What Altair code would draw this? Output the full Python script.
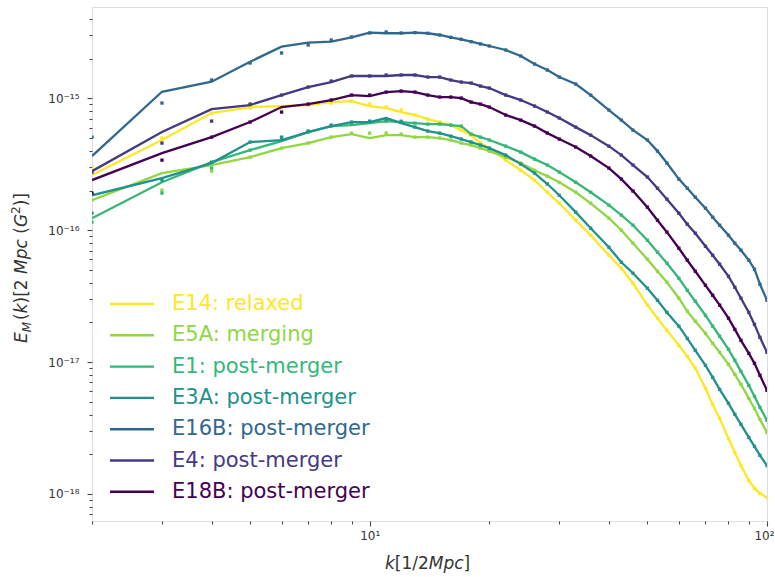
import altair as alt
import pandas as pd

# wavenumber grid, k [1/2 Mpc]
K = [2, 3, 4, 5, 6, 7, 8, 9, 10, 11, 12, 13, 14, 15, 16, 17, 18, 19, 20,
     22, 24, 26, 28, 30, 33, 36, 40, 43, 46, 50, 53, 56, 60, 63, 66,
     70, 73, 76, 80, 83, 86, 90, 93, 96, 100]

# magnetic energy spectra E_M(k), in units of 1e-16 G^2
UNIT = 1e-16

E14 = [2.62, 4.83, 7.73, 8.59, 8.74, 8.90, 9.37, 9.54, 8.74, 8.44, 7.87, 7.47,
       6.96, 6.61, 6.27, 5.74, 5.26, 4.58, 4.19, 3.40, 2.85, 2.40, 1.94, 1.60,
       1.191, 0.916, 0.646, 0.514, 0.396, 0.270, 0.215, 0.174, 0.134, 0.1105,
       0.0896, 0.0632, 0.0477, 0.0374, 0.0263, 0.0206, 0.0164, 0.01264, 0.0110,
       0.0101, 0.00939]
E5A = [1.69, 2.71, 3.12, 3.58, 4.19, 4.58, 5.08, 5.36, 5.00, 5.26, 5.26, 5.08,
       5.08, 5.00, 4.83, 4.58, 4.42, 4.19, 3.98, 3.58, 3.23, 2.85, 2.57, 2.31,
       1.94, 1.60, 1.233, 1.00, 0.797, 0.602, 0.488, 0.403, 0.305, 0.243, 0.204,
       0.165, 0.1387, 0.1185, 0.0960, 0.0807, 0.0677, 0.0530, 0.0445, 0.0367,
       0.0292]
E1 = [1.233, 2.31, 3.28, 4.05, 4.74, 5.55, 6.16, 6.27, 6.49, 6.72, 6.61, 6.49,
      6.38, 6.38, 6.27, 6.16, 5.36, 5.08, 4.83, 4.34, 3.91, 3.46, 3.12, 2.76,
      2.31, 1.94, 1.548, 1.300, 1.091, 0.839, 0.681, 0.562, 0.432, 0.350, 0.289,
      0.226, 0.187, 0.157, 0.1249, 0.1030, 0.0850, 0.0666, 0.0549, 0.0453,
      0.0361]
E3A = [1.84, 2.48, 3.23, 4.66, 4.83, 5.55, 6.16, 6.61, 6.61, 7.09, 6.49, 6.05,
       5.65, 5.45, 5.17, 4.91, 4.66, 4.42, 4.19, 3.71, 3.17, 2.71, 2.24, 1.84,
       1.370, 1.035, 0.743, 0.571, 0.472, 0.363, 0.294, 0.238, 0.187, 0.151,
       0.1227, 0.0944, 0.0765, 0.0620, 0.0486, 0.0401, 0.0337, 0.0268, 0.0229,
       0.0196, 0.0164]
E16B = [3.65, 11.22, 13.37, 18.96, 24.65, 26.44, 26.91, 29.05, 31.49, 31.16,
        31.16, 31.49, 31.16, 30.24, 29.05, 28.05, 26.91, 25.85, 24.95, 23.27,
        20.95, 18.21, 16.40, 14.51, 12.84, 10.59, 8.15, 6.84, 5.74, 4.83, 3.98,
        3.23, 2.44, 2.08, 1.78, 1.47, 1.255, 1.091, 0.916, 0.797, 0.705, 0.592,
        0.506, 0.389, 0.294]
E4 = [2.805, 5.55, 8.29, 8.90, 10.59, 12.18, 13.30, 14.77, 14.77, 14.77, 15.03,
      15.03, 14.51, 14.51, 13.77, 13.30, 13.07, 12.40, 11.97, 10.59, 9.71, 8.74,
      7.87, 7.09, 6.05, 5.26, 4.34, 3.71, 3.12, 2.53, 2.08, 1.72, 1.346, 1.111,
      0.949, 0.756, 0.646, 0.552, 0.447, 0.369, 0.305, 0.238, 0.193, 0.154,
      0.1185]
E18B = [2.40, 3.84, 5.08, 6.61, 8.59, 9.05, 9.71, 10.59, 10.41, 11.16, 11.36,
        11.16, 10.59, 10.23, 10.23, 10.05, 9.37, 9.05, 8.59, 7.47, 6.84, 6.16,
        5.45, 4.91, 4.27, 3.65, 2.96, 2.44, 1.98, 1.495, 1.191, 0.966, 0.730,
        0.592, 0.488, 0.382, 0.321, 0.270, 0.215, 0.177, 0.146, 0.1164, 0.0977,
        0.0793, 0.0610]

# unsmoothed low-k samples (k = 2..12); above k = 12 the samples sit on the curves
N_LOW = 11
E14_PTS = [3.01, 5.00, 7.73, 8.44, 8.44, 8.90, 9.21, 9.54, 9.05, 8.59, 8.15]
E5A_PTS = [1.69, 2.01, 2.805, 3.58, 4.19, 4.58, 5.08, 5.45, 5.45, 5.45, 5.36]
E1_PTS = [1.150, 1.91, 2.96, 4.05, 5.00, 5.55, 6.16, 6.38, 6.61, 6.72, 6.72]
E3A_PTS = [1.346, 2.40, 3.28, 4.66, 5.08, 5.65, 6.27, 6.61, 6.72, 6.96, 6.61]
E16B_PTS = [5.08, 9.21, 13.77, 18.54, 22.08, 25.39, 27.71, 29.20, 31.32, 31.87, 31.32]
E4_PTS = [2.757, 4.58, 6.72, 9.05, 10.59, 12.18, 13.53, 14.77, 14.77, 15.03, 15.03]
E18B_PTS = [1.91, 3.40, 5.08, 6.61, 7.87, 9.05, 9.71, 10.59, 10.59, 11.16, 11.36]

LABELS = ["E14: relaxed", "E5A: merging", "E1: post-merger", "E3A: post-merger",
          "E16B: post-merger", "E4: post-merger", "E18B: post-merger"]
COLORS = ["#fde725", "#90d743", "#35b779", "#21918c", "#31688e", "#443983", "#440154"]
CURVES = [E14, E5A, E1, E3A, E16B, E4, E18B]
SAMPLES = [E14_PTS, E5A_PTS, E1_PTS, E3A_PTS, E16B_PTS, E4_PTS, E18B_PTS]

FONT = "DejaVu Sans"
INK = "#333333"

# log axes with matplotlib-style major/minor ticks
x_ticks = [2, 3, 4, 5, 6, 7, 8, 9, 10, 20, 30, 40, 50, 60, 70, 80, 90, 100]
y_ticks = [m * 10.0 ** e for e in range(-19, -14) for m in range(1, 10)
           if 6.2e-19 <= m * 10.0 ** e <= 4.93e-15]
is_decade = "abs(log(datum.value)/LN10 - round(log(datum.value)/LN10)) < 0.001"
dec = "round(log(datum.value)/LN10)"

x_axis = alt.Axis(
    values=x_ticks, title=None, grid=False, domain=False,
    labelExpr="datum.value == 10 ? '10¹' : datum.value == 100 ? '10²' : ''",
    tickSize={"condition": {"test": "datum.value == 10 || datum.value == 100", "value": 5}, "value": 3},
    labelOffset={"condition": {"test": "datum.value == 100", "value": -3}, "value": 0},
    tickColor="#444444", tickWidth=1.1, labelFont=FONT, labelFontSize=12,
    labelColor=INK, labelPadding=4, labelFlush=False, labelOverlap=False, labelBound=False,
)
y_axis = alt.Axis(
    values=y_ticks, title=None, grid=False, domain=False,
    labelExpr=(f"{is_decade} ? ({dec} == -15 ? '10⁻¹⁵' : {dec} == -16 ? '10⁻¹⁶' : "
               f"{dec} == -17 ? '10⁻¹⁷' : '10⁻¹⁸') : ''"),
    tickSize={"condition": {"test": is_decade, "value": 5}, "value": 3},
    tickColor="#444444", tickWidth=1.1, labelFont=FONT, labelFontSize=12,
    labelColor=INK, labelPadding=8, labelFlush=False, labelOverlap=False, labelBound=False,
)

X = alt.X("k:Q", scale=alt.Scale(type="log", domain=[2, 100], nice=False), axis=x_axis)
Y = alt.Y("E:Q", scale=alt.Scale(type="log", domain=[6.23e-19, 4.93e-15], nice=False), axis=y_axis)

layers = []
for label, color, curve, low in zip(LABELS, COLORS, CURVES, SAMPLES):
    line_df = pd.DataFrame({"k": K, "E": [v * UNIT for v in curve]})
    pts_df = pd.DataFrame({"k": K, "E": [v * UNIT for v in low + curve[N_LOW:]]})
    layers.append(alt.Chart(line_df).mark_line(color=color, strokeWidth=2.3, clip=True)
                  .encode(x=X, y=Y, order="k:Q"))
    layers.append(alt.Chart(pts_df).mark_square(color=color, size=11, opacity=1, clip=True)
                  .encode(x=X, y=Y))

# legend, drawn inside the lower-left corner of the axes
LEG_Y0, LEG_DY = 297, 31.3
for i, (label, color) in enumerate(zip(LABELS, COLORS)):
    row = pd.DataFrame({"label": [label]})
    yy = LEG_Y0 + i * LEG_DY
    layers.append(alt.Chart(row).mark_rule(color=color, strokeWidth=2.4)
                  .encode(x=alt.value(18), x2=alt.value(62), y=alt.value(yy)))
    layers.append(alt.Chart(row).mark_text(color=color, font=FONT, fontSize=21,
                                           align="left", baseline="middle")
                  .encode(x=alt.value(80), y=alt.value(yy), text="label:N"))

# axis titles with math-style sub/superscripts
def piece(txt, x, y, size, italic, angle=0):
    kw = dict(font=FONT, fontSize=size, color=INK, align="left", baseline="alphabetic")
    if italic:
        kw["fontStyle"] = "italic"
    if angle:
        kw["angle"] = angle
    return (alt.Chart(pd.DataFrame({"t": [txt]})).mark_text(**kw)
            .encode(x=alt.value(x), y=alt.value(y), text="t:N"))

YB = -65  # baseline of the rotated y title
y_title = [
    ("E", YB, 336.0, 17, True),
    ("M", YB + 4, 325.3, 12, True),
    ("(", YB, 312.9, 17, False),
    ("k", YB, 306.3, 17, True),
    (")[2", YB, 296.4, 17, False),
    ("Mpc", YB, 267.0, 17, True),
    ("(", YB, 226.7, 17, False),
    ("G", YB, 220.1, 17, True),
    ("2", YB - 7, 206.9, 12, False),
    (")]", YB, 199.3, 17, False),
]
for txt, x, y, size, it in y_title:
    layers.append(piece(txt, x, y, size, it, angle=270))

XB = 562  # baseline of the x title
x_title = [
    ("k", 293.0, 17, True),
    ("[1/2", 302.8, 17, False),
    ("Mpc", 336.8, 17, True),
    ("]", 371.6, 17, False),
]
for txt, x, size, it in x_title:
    layers.append(piece(txt, x, XB, size, it))

chart = (
    alt.layer(*layers)
    .properties(width=675, height=514,
                padding={"left": 92, "top": 7, "right": 8, "bottom": 56},
                autosize=alt.AutoSizeParams(type="none"))
    .configure_view(stroke="#5a5a5a", strokeWidth=1.3)
    .configure(background="white")
)

chart.save("out.html", embed_options={"renderer": "svg", "actions": False})
